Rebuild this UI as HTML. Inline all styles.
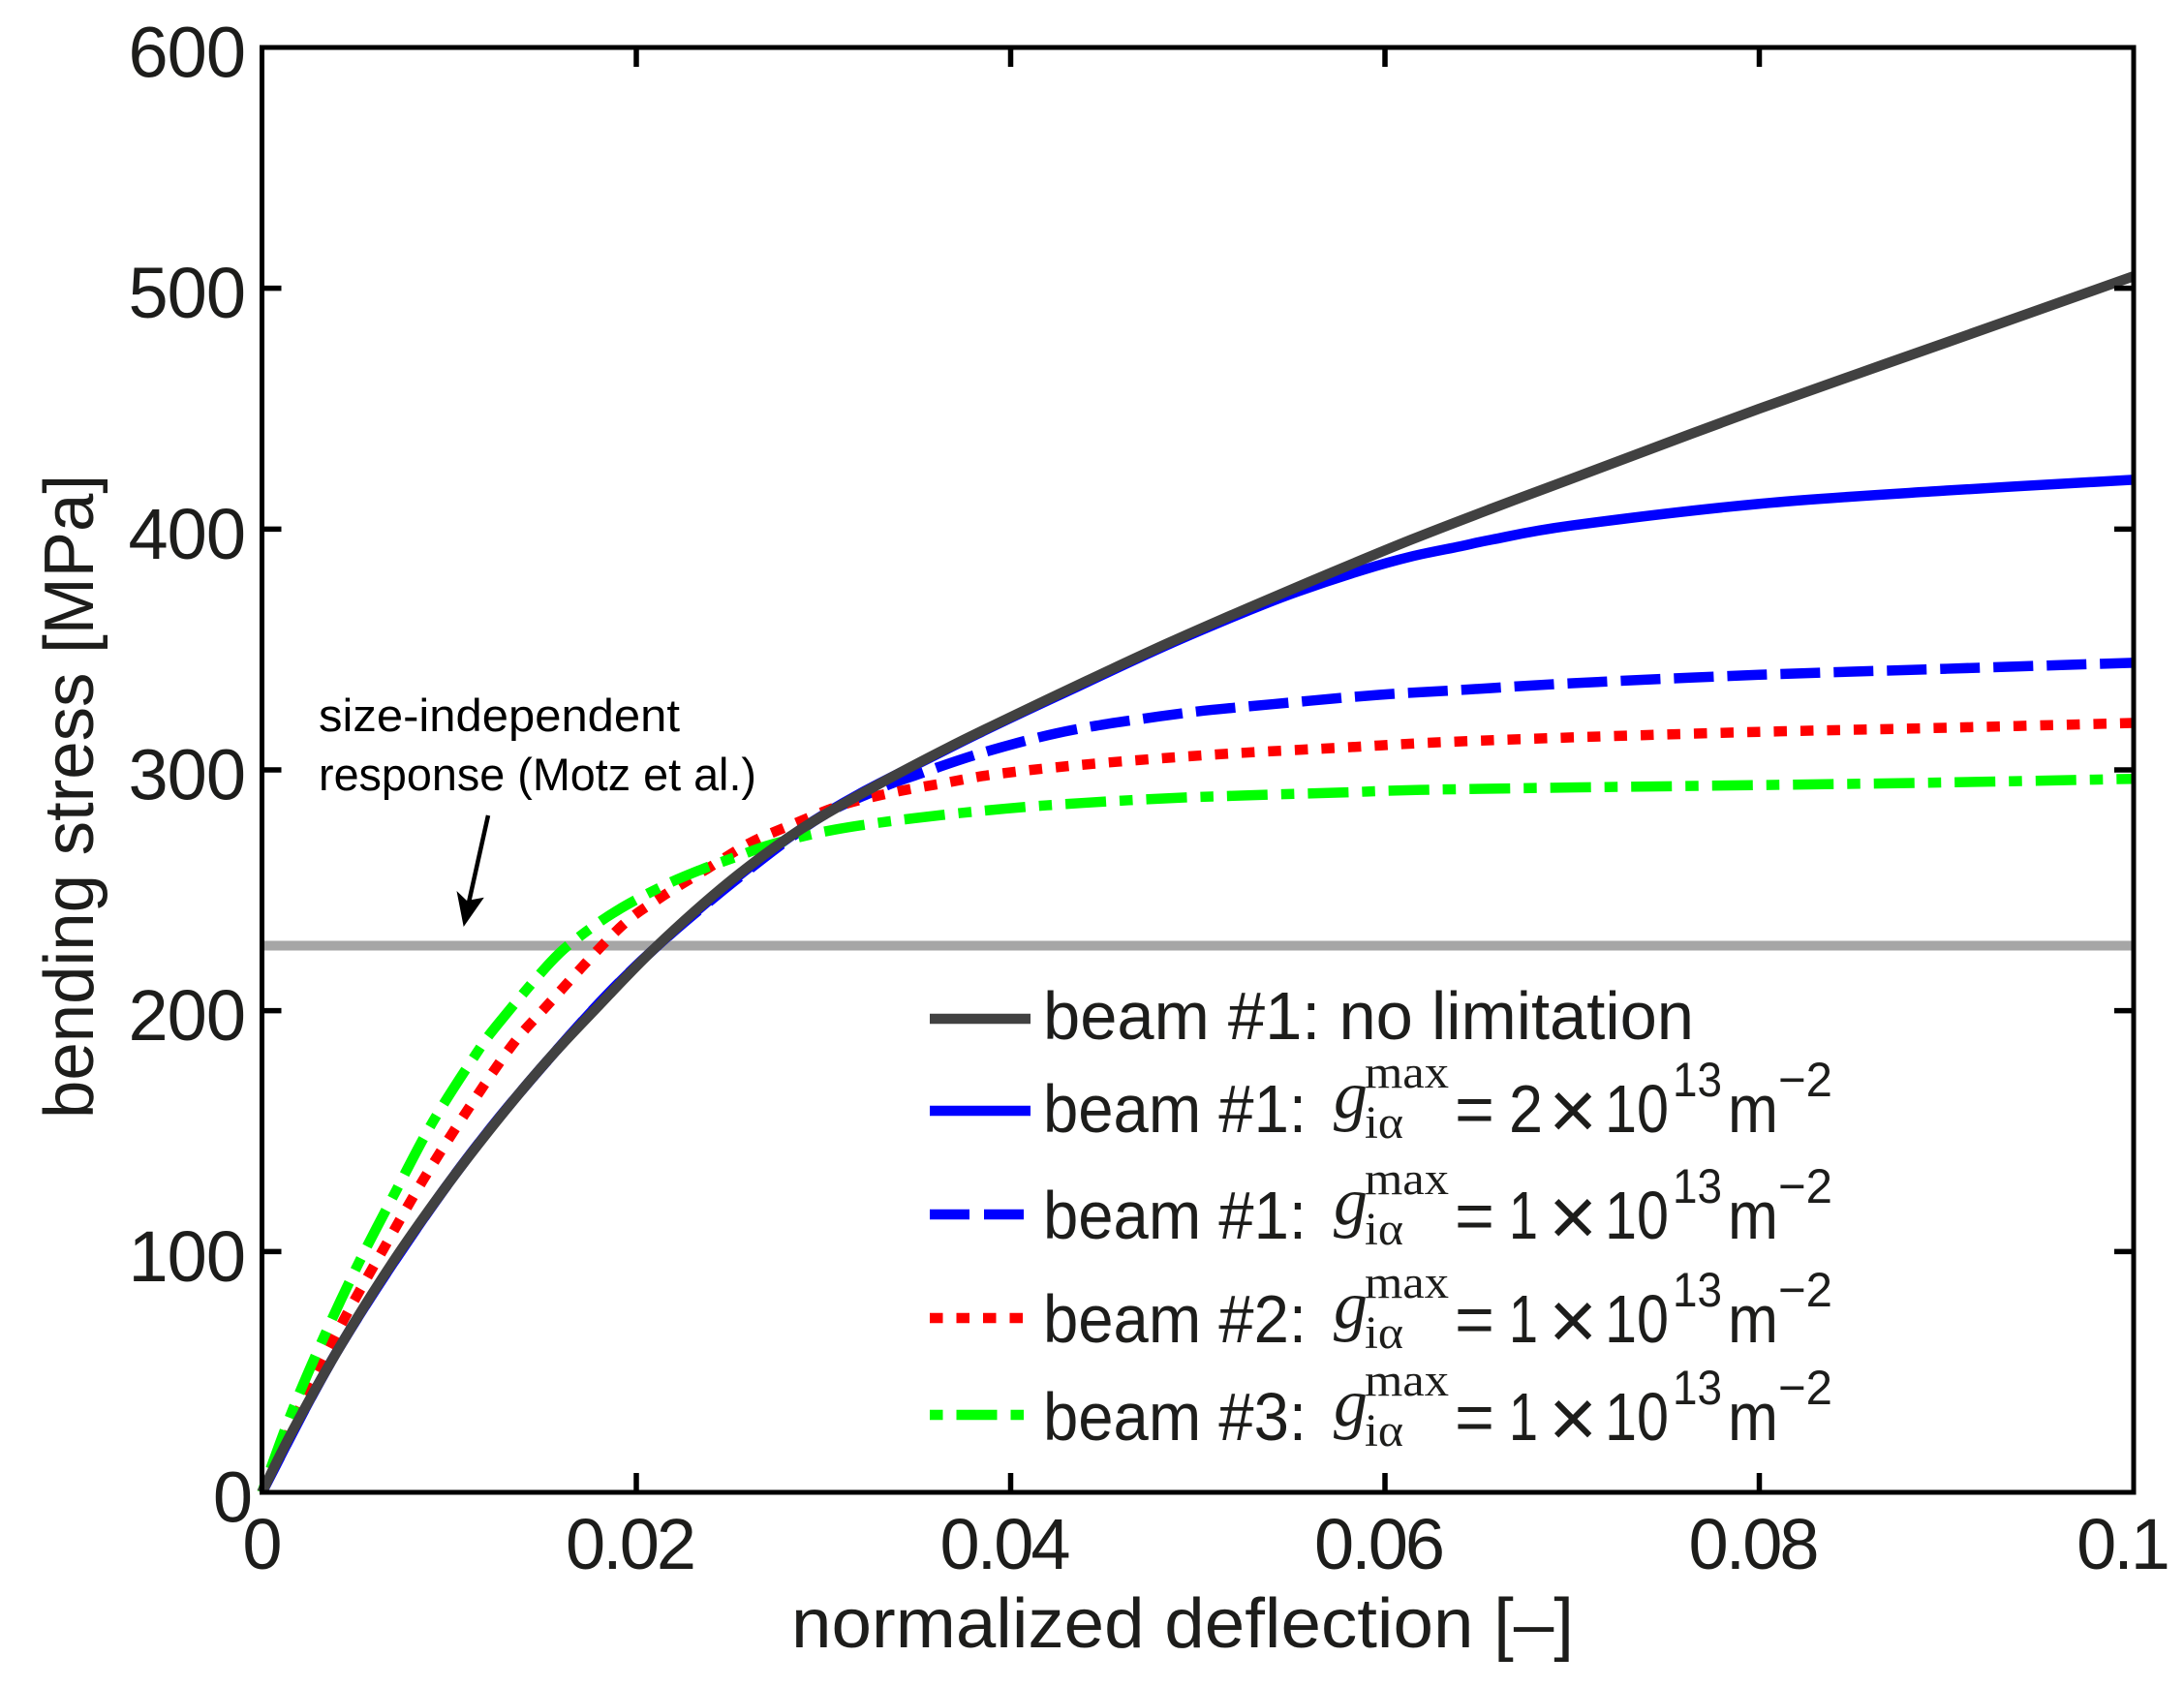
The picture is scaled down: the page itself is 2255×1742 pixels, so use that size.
<!DOCTYPE html>
<html lang="en">
<head>
<meta charset="utf-8">
<title>Bending stress vs normalized deflection</title>
<style>
  html, body { margin: 0; padding: 0; background: #fff; }
  svg { display: block; }
  text { font-family: "Liberation Sans", sans-serif; fill: #1d1d1b; }
  .tick-label { font-size: 74px; }
  .x-label { letter-spacing: -3px; }
  .y-label { letter-spacing: -1px; }
  .title { font-size: 72px; }
  .legend { font-size: 70px; }
  .math { font-family: "Liberation Serif", serif; }
  .note { font-size: 47px; fill: #000; }
</style>
</head>
<body>
<svg id="chart" xmlns="http://www.w3.org/2000/svg" width="2255" height="1742" viewBox="0 0 2255 1742">
  <rect x="0" y="0" width="2255" height="1742" fill="#fff"/>
  <g id="marks"></g>
  <g id="axes"></g>

  <text class="title" x="817" y="1701" textLength="808" lengthAdjust="spacingAndGlyphs">normalized deflection [–]</text>
  <text class="title" transform="translate(96,1155) rotate(-90)" textLength="665" lengthAdjust="spacingAndGlyphs">bending stress [MPa]</text>

  <text class="note" x="329" y="755" textLength="373" lengthAdjust="spacingAndGlyphs">size-independent</text>
  <text class="note" x="329" y="816" textLength="452" lengthAdjust="spacingAndGlyphs">response (Motz et al.)</text>
  <g>
    <line x1="504" y1="842" x2="484" y2="932" stroke="#000" stroke-width="4.5"/>
    <polygon points="478.7,957 471.5,920 482,930 499.8,926.7" fill="#000"/>
  </g>

  <g id="legend">
    <line x1="960" x2="1064" y1="1052" y2="1052" stroke="#414141" stroke-width="10.5"/>
    <line x1="960" x2="1064" y1="1147" y2="1147" stroke="#0000ff" stroke-width="10.5"/>
    <line x1="960" x2="1057" y1="1254" y2="1254" stroke="#0000ff" stroke-width="10.5" stroke-dasharray="41 15"/>
    <line x1="960" x2="1056" y1="1361" y2="1361" stroke="#ff0000" stroke-width="10.5" stroke-dasharray="13.5 14"/>
    <line x1="960" x2="1057" y1="1461" y2="1461" stroke="#00ff00" stroke-width="10.5" stroke-dasharray="13.5 14 42 14"/>

    <text class="legend" x="1077" y="1073" textLength="672" lengthAdjust="spacingAndGlyphs">beam #1: no limitation</text>

    <g transform="translate(0,1169)">
      <text class="legend" x="1077" y="0" textLength="272" lengthAdjust="spacingAndGlyphs">beam #1:</text>
      <text class="legend math" x="1377" y="-15" font-style="italic">g</text>
      <text class="math" x="1409" y="-46" font-size="48" textLength="87" lengthAdjust="spacingAndGlyphs">max</text>
      <text class="math" x="1409" y="6" font-size="48" textLength="40" lengthAdjust="spacingAndGlyphs">iα</text>
      <text class="legend" x="1502" y="0" textLength="41" lengthAdjust="spacingAndGlyphs">=</text>
      <text class="legend" x="1558" y="0" textLength="35" lengthAdjust="spacingAndGlyphs">2</text>
      <text x="1599" y="7" font-size="86">×</text>
      <text class="legend" x="1657" y="0" textLength="66" lengthAdjust="spacingAndGlyphs">10</text>
      <text x="1727" y="-37" font-size="50" textLength="51" lengthAdjust="spacingAndGlyphs">13</text>
      <text class="legend" x="1784" y="0" textLength="52" lengthAdjust="spacingAndGlyphs">m</text>
      <text x="1836" y="-37" font-size="50" textLength="56" lengthAdjust="spacingAndGlyphs">−2</text>
    </g>
    <g transform="translate(0,1279)">
      <text class="legend" x="1077" y="0" textLength="272" lengthAdjust="spacingAndGlyphs">beam #1:</text>
      <text class="legend math" x="1377" y="-15" font-style="italic">g</text>
      <text class="math" x="1409" y="-46" font-size="48" textLength="87" lengthAdjust="spacingAndGlyphs">max</text>
      <text class="math" x="1409" y="6" font-size="48" textLength="40" lengthAdjust="spacingAndGlyphs">iα</text>
      <text class="legend" x="1502" y="0" textLength="41" lengthAdjust="spacingAndGlyphs">=</text>
      <text class="legend" x="1558" y="0" textLength="30" lengthAdjust="spacingAndGlyphs">1</text>
      <text x="1599" y="7" font-size="86">×</text>
      <text class="legend" x="1657" y="0" textLength="66" lengthAdjust="spacingAndGlyphs">10</text>
      <text x="1727" y="-37" font-size="50" textLength="51" lengthAdjust="spacingAndGlyphs">13</text>
      <text class="legend" x="1784" y="0" textLength="52" lengthAdjust="spacingAndGlyphs">m</text>
      <text x="1836" y="-37" font-size="50" textLength="56" lengthAdjust="spacingAndGlyphs">−2</text>
    </g>
    <g transform="translate(0,1386)">
      <text class="legend" x="1077" y="0" textLength="272" lengthAdjust="spacingAndGlyphs">beam #2:</text>
      <text class="legend math" x="1377" y="-15" font-style="italic">g</text>
      <text class="math" x="1409" y="-46" font-size="48" textLength="87" lengthAdjust="spacingAndGlyphs">max</text>
      <text class="math" x="1409" y="6" font-size="48" textLength="40" lengthAdjust="spacingAndGlyphs">iα</text>
      <text class="legend" x="1502" y="0" textLength="41" lengthAdjust="spacingAndGlyphs">=</text>
      <text class="legend" x="1558" y="0" textLength="30" lengthAdjust="spacingAndGlyphs">1</text>
      <text x="1599" y="7" font-size="86">×</text>
      <text class="legend" x="1657" y="0" textLength="66" lengthAdjust="spacingAndGlyphs">10</text>
      <text x="1727" y="-37" font-size="50" textLength="51" lengthAdjust="spacingAndGlyphs">13</text>
      <text class="legend" x="1784" y="0" textLength="52" lengthAdjust="spacingAndGlyphs">m</text>
      <text x="1836" y="-37" font-size="50" textLength="56" lengthAdjust="spacingAndGlyphs">−2</text>
    </g>
    <g transform="translate(0,1487)">
      <text class="legend" x="1077" y="0" textLength="272" lengthAdjust="spacingAndGlyphs">beam #3:</text>
      <text class="legend math" x="1377" y="-15" font-style="italic">g</text>
      <text class="math" x="1409" y="-46" font-size="48" textLength="87" lengthAdjust="spacingAndGlyphs">max</text>
      <text class="math" x="1409" y="6" font-size="48" textLength="40" lengthAdjust="spacingAndGlyphs">iα</text>
      <text class="legend" x="1502" y="0" textLength="41" lengthAdjust="spacingAndGlyphs">=</text>
      <text class="legend" x="1558" y="0" textLength="30" lengthAdjust="spacingAndGlyphs">1</text>
      <text x="1599" y="7" font-size="86">×</text>
      <text class="legend" x="1657" y="0" textLength="66" lengthAdjust="spacingAndGlyphs">10</text>
      <text x="1727" y="-37" font-size="50" textLength="51" lengthAdjust="spacingAndGlyphs">13</text>
      <text class="legend" x="1784" y="0" textLength="52" lengthAdjust="spacingAndGlyphs">m</text>
      <text x="1836" y="-37" font-size="50" textLength="56" lengthAdjust="spacingAndGlyphs">−2</text>
    </g>
  </g>
</svg>
<script>
const xTicks = [0, 0.02, 0.04, 0.06, 0.08, 0.1];
const xTickLabels = ["0", "0.02", "0.04", "0.06", "0.08", "0.1"];
const yTicks = [0, 100, 200, 300, 400, 500, 600];
const yTickLabels = ["0", "100", "200", "300", "400", "500", "600"];

const referenceStress = 227;

const noLimitX = [0, 0.0016, 0.0042, 0.007, 0.01, 0.0128, 0.0154, 0.0178, 0.021, 0.025, 0.0288, 0.0328, 0.0367, 0.0405, 0.0441, 0.0484, 0.0528, 0.0571, 0.0614, 0.0657, 0.07, 0.08, 0.09, 0.1];
const noLimitY = [0, 25, 61, 95.7, 128.7, 156.7, 180.6, 200.5, 226.1, 253.7, 275.4, 293.4, 309.4, 323.8, 337.1, 352.6, 367.6, 381.8, 395.6, 408.5, 421, 450, 477.5, 505];

const beam1HighX = [0, 0.0042, 0.01, 0.0154, 0.021, 0.0288, 0.0367, 0.0441, 0.0484, 0.0528, 0.0553, 0.0588, 0.0614, 0.064, 0.0657, 0.07, 0.08, 0.09, 0.1];
const beam1HighY = [0, 61, 128.7, 180.6, 226, 275.4, 309, 336.5, 352, 366.5, 374, 383, 388.6, 392.8, 395.6, 401.5, 410.5, 416, 420.5];

const beam1LowX = [0, 0.0042, 0.01, 0.0154, 0.021, 0.0288, 0.0328, 0.035, 0.0381, 0.0415, 0.0443, 0.0472, 0.05, 0.0522, 0.055, 0.0578, 0.0607, 0.0636, 0.0657, 0.07, 0.08, 0.09, 0.1];
const beam1LowY = [0, 61, 128.7, 180.6, 226, 275, 291.5, 298, 306.2, 313.5, 318, 321.4, 324.3, 326, 328, 330, 331.7, 333, 334, 336, 339.5, 342, 344.5];

const beam2X = [0, 0.0025, 0.0044, 0.0065, 0.0086, 0.0109, 0.0133, 0.0151, 0.019, 0.0213, 0.0238, 0.0261, 0.0283, 0.0309, 0.0337, 0.0365, 0.039, 0.0431, 0.0477, 0.0522, 0.0578, 0.0627, 0.07, 0.08, 0.09, 0.1];
const beam2Y = [0, 42.9, 72.1, 101.2, 129.6, 157.8, 185, 201, 233.6, 247, 259, 269.8, 277.2, 285.2, 290.6, 294.6, 298, 301.6, 304.6, 307, 309.3, 311.4, 313.5, 315.8, 317.5, 319.5];

const beam3X = [0, 0.0016, 0.0033, 0.0051, 0.0071, 0.0091, 0.0114, 0.0126, 0.0154, 0.017, 0.019, 0.0214, 0.0234, 0.0253, 0.0273, 0.0306, 0.0348, 0.0397, 0.0439, 0.0486, 0.0529, 0.0576, 0.0619, 0.07, 0.08, 0.09, 0.1];
const beam3Y = [0, 33.5, 64.4, 94.2, 124.3, 153.5, 181.6, 194.4, 220, 231, 241.7, 251.7, 258.4, 263.8, 269.2, 275.2, 279.9, 283.9, 286.3, 288.3, 289.5, 290.6, 291.7, 292.7, 293.7, 294.8, 296.3];

const NS = "http://www.w3.org/2000/svg";
const plotLeft = 270.5, plotRight = 2203, plotTop = 49, plotBottom = 1541;
const xMax = 0.1, yMax = 600;
function xScale(v) { return plotLeft + (v / xMax) * (plotRight - plotLeft); }
function yScale(v) { return plotBottom - (v / yMax) * (plotBottom - plotTop); }

function smoothPath(xs, ys) {
  const p = xs.map(function (x, i) { return [xScale(x), yScale(ys[i])]; });
  let d = "M" + p[0][0].toFixed(2) + " " + p[0][1].toFixed(2);
  for (let i = 0; i < p.length - 1; i++) {
    const a = p[Math.max(i - 1, 0)], b = p[i], c = p[i + 1], e = p[Math.min(i + 2, p.length - 1)];
    const c1x = b[0] + (c[0] - a[0]) / 6, c1y = b[1] + (c[1] - a[1]) / 6;
    const c2x = c[0] - (e[0] - b[0]) / 6, c2y = c[1] - (e[1] - b[1]) / 6;
    d += "C" + c1x.toFixed(2) + " " + c1y.toFixed(2) + " " + c2x.toFixed(2) + " " + c2y.toFixed(2) + " " + c[0].toFixed(2) + " " + c[1].toFixed(2);
  }
  return d;
}

const marks = document.getElementById("marks");
const axes = document.getElementById("axes");

function addCurve(name, xs, ys, color, dash, offset) {
  const el = document.createElementNS(NS, "path");
  
  
  el.setAttribute("d", smoothPath(xs, ys));
  el.setAttribute("fill", "none");
  el.setAttribute("stroke", color);
  el.setAttribute("stroke-width", "10.5");
  el.setAttribute("stroke-linejoin", "round");
  if (dash) el.setAttribute("stroke-dasharray", dash);
  if (offset) el.setAttribute("stroke-dashoffset", offset);
  marks.appendChild(el);
}

const refLine = document.createElementNS(NS, "line");


refLine.setAttribute("x1", xScale(0));
refLine.setAttribute("x2", xScale(xMax));
refLine.setAttribute("y1", yScale(referenceStress));
refLine.setAttribute("y2", yScale(referenceStress));
refLine.setAttribute("stroke", "#a6a6a6");
refLine.setAttribute("stroke-width", "10");
marks.appendChild(refLine);

addCurve("curve-beam1-2e13", beam1HighX, beam1HighY, "#0000ff", null, 0);
addCurve("curve-beam1-1e13", beam1LowX, beam1LowY, "#0000ff", "41 14", 0);
addCurve("curve-beam2-1e13", beam2X, beam2Y, "#ff0000", "13.5 14", 0);
addCurve("curve-beam3-1e13", beam3X, beam3Y, "#00ff00", "42 14 13.5 14", -26);
addCurve("curve-beam1-no-limitation", noLimitX, noLimitY, "#414141", null, 0);

const frame = document.createElementNS(NS, "rect");


frame.setAttribute("x", plotLeft);
frame.setAttribute("y", plotTop);
frame.setAttribute("width", plotRight - plotLeft);
frame.setAttribute("height", plotBottom - plotTop);
frame.setAttribute("fill", "none");
frame.setAttribute("stroke", "#000");
frame.setAttribute("stroke-width", "5");
axes.appendChild(frame);

function addTick(name, x1, y1, x2, y2) {
  const el = document.createElementNS(NS, "line");
  
  
  el.setAttribute("x1", x1);
  el.setAttribute("y1", y1);
  el.setAttribute("x2", x2);
  el.setAttribute("y2", y2);
  el.setAttribute("stroke", "#000");
  el.setAttribute("stroke-width", "5.5");
  axes.appendChild(el);
}

const tickLen = 20;
xTicks.forEach(function (v, i) {
  const x = xScale(v);
  if (i > 0 && i < xTicks.length - 1) {
    addTick("x-tick-bottom", x, plotBottom, x, plotBottom - tickLen);
    addTick("x-tick-top", x, plotTop, x, plotTop + tickLen);
  }
  const t = document.createElementNS(NS, "text");
  
  
  t.setAttribute("class", "tick-label x-label");
  const shift = i === 0 ? -1 : (i === xTicks.length - 1 ? -12 : -7);
  t.setAttribute("x", x + shift);
  t.setAttribute("y", 1620);
  t.setAttribute("text-anchor", "middle");
  t.textContent = xTickLabels[i];
  axes.appendChild(t);
});

yTicks.forEach(function (v, i) {
  const y = yScale(v);
  if (i > 0 && i < yTicks.length - 1) {
    addTick("y-tick-left", plotLeft, y, plotLeft + tickLen, y);
    addTick("y-tick-right", plotRight, y, plotRight - tickLen, y);
  }
  const t = document.createElementNS(NS, "text");
  
  
  t.setAttribute("class", "tick-label y-label");
  t.setAttribute("x", i === 0 ? 260 : 253);
  t.setAttribute("y", y + 30.5);
  t.setAttribute("text-anchor", "end");
  t.textContent = yTickLabels[i];
  axes.appendChild(t);
});
</script>
</body>
</html>
